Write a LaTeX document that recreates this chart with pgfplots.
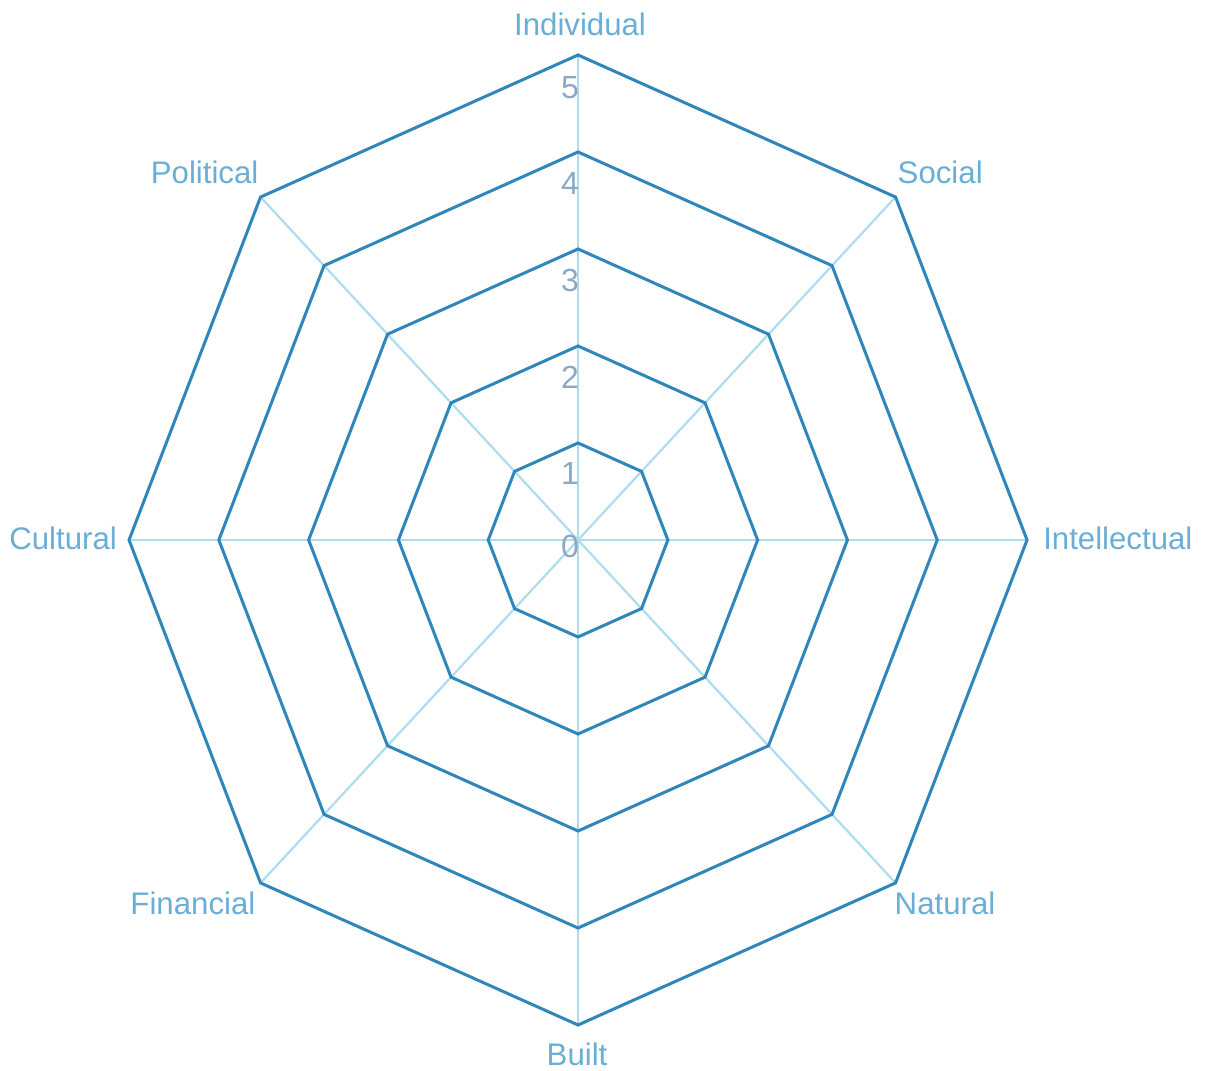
\documentclass[border=0pt]{standalone}
\usepackage{pgfplots}
\pgfplotsset{compat=1.18}
\usepackage{fontspec}
\setmainfont{Liberation Sans}
\definecolor{gridc}{HTML}{2F86BA}
\definecolor{spokec}{HTML}{AEDCEF}
\definecolor{labc}{HTML}{6AAED6}
\definecolor{tickc}{HTML}{8AA9C4}
\begin{document}
\begin{tikzpicture}
\begin{axis}[
  x=89.8pt, y=97pt,
  xmin=-6.437, xmax=7.004, ymin=-5.474, ymax=5.567,
  hide axis, clip=false,
  every axis plot/.append style={no markers, data cs=polar},
]
\path (rel axis cs:0,0) rectangle (rel axis cs:1,1);
% spokes
\addplot[spokec, line width=2.2pt] coordinates {(90,0) (90,5)};
\addplot[spokec, line width=2.2pt] coordinates {(45,0) (45,5)};
\addplot[spokec, line width=2.2pt] coordinates {(0,0) (0,5)};
\addplot[spokec, line width=2.2pt] coordinates {(-45,0) (-45,5)};
\addplot[spokec, line width=2.2pt] coordinates {(-90,0) (-90,5)};
\addplot[spokec, line width=2.2pt] coordinates {(-135,0) (-135,5)};
\addplot[spokec, line width=2.2pt] coordinates {(180,0) (180,5)};
\addplot[spokec, line width=2.2pt] coordinates {(135,0) (135,5)};
% octagon rings
\addplot[gridc, line width=3pt, line join=miter] coordinates {(90,1) (45,1) (0,1) (-45,1) (-90,1) (-135,1) (180,1) (135,1) (90,1)} -- cycle;
\addplot[gridc, line width=3pt, line join=miter] coordinates {(90,2) (45,2) (0,2) (-45,2) (-90,2) (-135,2) (180,2) (135,2) (90,2)} -- cycle;
\addplot[gridc, line width=3pt, line join=miter] coordinates {(90,3) (45,3) (0,3) (-45,3) (-90,3) (-135,3) (180,3) (135,3) (90,3)} -- cycle;
\addplot[gridc, line width=3pt, line join=miter] coordinates {(90,4) (45,4) (0,4) (-45,4) (-90,4) (-135,4) (180,4) (135,4) (90,4)} -- cycle;
\addplot[gridc, line width=3pt, line join=miter] coordinates {(90,5) (45,5) (0,5) (-45,5) (-90,5) (-135,5) (180,5) (135,5) (90,5)} -- cycle;
% tick labels
\begin{scope}[every node/.style={inner sep=0pt, text=tickc, font=\fontsize{32}{36}\selectfont}]
\node[anchor=base east, xshift=1pt, yshift=-18pt] at (axis cs:0,0) {0};
\node[anchor=base east, xshift=1pt, yshift=-42pt] at (axis cs:0,1) {1};
\node[anchor=base east, xshift=1pt, yshift=-43pt] at (axis cs:0,2) {2};
\node[anchor=base east, xshift=1pt, yshift=-43pt] at (axis cs:0,3) {3};
\node[anchor=base east, xshift=1pt, yshift=-43pt] at (axis cs:0,4) {4};
\node[anchor=base east, xshift=1pt, yshift=-44pt] at (axis cs:0,5) {5};
\end{scope}
% category labels
\begin{scope}[every node/.style={inner sep=0pt, text=labc, font=\fontsize{31.2}{36}\selectfont}]
\node[anchor=base, xshift=2pt, yshift=19pt] at (axis cs:0,5) {Individual};
\node[anchor=base west, xshift=2pt, yshift=14pt] at (axis cs:3.5355,3.5355) {Social};
\node[anchor=base west, xshift=16pt, yshift=-10pt] at (axis cs:5,0) {Intellectual};
\node[anchor=base west, xshift=-1pt, yshift=-32pt] at (axis cs:3.5355,-3.5355) {Natural};
\node[anchor=base, xshift=-1pt, yshift=-40pt] at (axis cs:0,-5) {Built};
\node[anchor=base east, xshift=-5pt, yshift=-32pt] at (axis cs:-3.5355,-3.5355) {Financial};
\node[anchor=base east, xshift=-12pt, yshift=-10pt] at (axis cs:-5,0) {Cultural};
\node[anchor=base east, xshift=-2pt, yshift=14pt] at (axis cs:-3.5355,3.5355) {Political};
\end{scope}
\end{axis}
\end{tikzpicture}
\end{document}
